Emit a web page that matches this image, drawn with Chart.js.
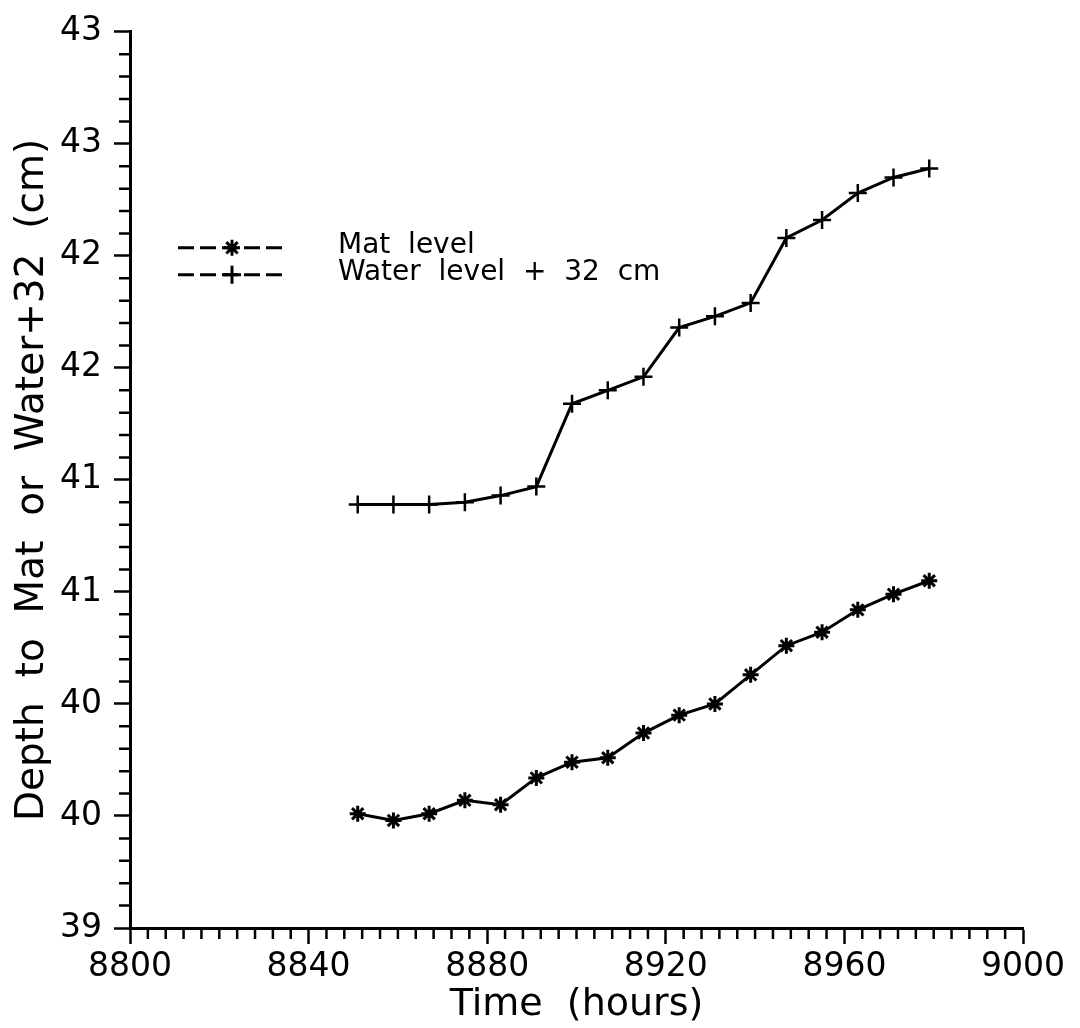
<!DOCTYPE html>
<html>
<head>
<meta charset="utf-8">
<script src="https://cdn.jsdelivr.net/npm/chart.js@4"></script>
<style>
  html, body { margin: 0; padding: 0; background: #fff; }
  #wrap { width: 1080px; height: 1028px; position: relative; }
</style>
</head>
<body>
<div id="wrap"><canvas id="myChart"></canvas></div>
<script>
// readings, every 8 hours
const hours = [8851, 8859, 8867, 8875, 8883, 8891, 8899, 8907, 8915, 8923, 8931, 8939, 8947, 8955, 8963, 8971, 8979]
const matLevel = [39.51, 39.48, 39.51, 39.57, 39.55, 39.67, 39.74, 39.76, 39.87, 39.95, 40.0, 40.13, 40.26, 40.32, 40.42, 40.49, 40.55]
const waterLevel = [40.89, 40.89, 40.89, 40.9, 40.93, 40.97, 41.34, 41.4, 41.46, 41.68, 41.73, 41.79, 42.08, 42.16, 42.28, 42.35, 42.39]
const seriesLabels = ['Mat  level', 'Water  level  +  32  cm']
const xTitle = 'Time  (hours)'
const yTitle = 'Depth  to  Mat  or  Water+32  (cm)'

const ctx = document.getElementById('myChart')

Chart.defaults.font.family = "'DejaVu Sans', sans-serif"
Chart.defaults.color = '#000'

// labels every 0.5 on y (printed rounded), every 40 on x
const isMajorY = (v) => Math.abs(v * 2 - Math.round(v * 2)) < 1e-6
const isMajorX = (v) => Math.abs(v % 40) < 1e-6

// short minor tick marks, the long ones come from chart.js itself
const minorTicks = {
  id: 'minorTicks',
  afterDraw(chart) {
    const { ctx, scales: { x, y } } = chart
    ctx.save()
    ctx.strokeStyle = '#000'
    ctx.lineWidth = 2.5
    ctx.beginPath()
    y.ticks.forEach((t) => {
      if (isMajorY(t.value)) return
      const py = y.getPixelForValue(t.value)
      ctx.moveTo(y.right - 11, py)
      ctx.lineTo(y.right, py)
    })
    x.ticks.forEach((t) => {
      if (isMajorX(t.value)) return
      const px = x.getPixelForValue(t.value)
      ctx.moveTo(px, x.top)
      ctx.lineTo(px, x.top + 11)
    })
    ctx.stroke()
    ctx.restore()
  }
}

// legend sits inside the plot, top left: "--*--  Mat level"
const inlineLegend = {
  id: 'inlineLegend',
  afterDraw(chart) {
    const { ctx, chartArea } = chart
    chart.data.datasets.forEach((ds, i) => {
      const rowY = chartArea.top + 216 + i * 27
      const x0 = chartArea.left + 48
      ctx.save()
      ctx.strokeStyle = '#000'
      ctx.fillStyle = '#000'
      ctx.lineWidth = 3
      ctx.setLineDash([16, 6])
      ctx.beginPath()
      ctx.moveTo(x0, rowY)
      ctx.lineTo(x0 + 110, rowY)
      ctx.stroke()
      ctx.setLineDash([])
      Chart.helpers.drawPoint(ctx, {
        pointStyle: ds.pointStyle,
        radius: ds.pointRadius,
        rotation: 0,
        borderWidth: 2.5
      }, x0 + 54, rowY)
      ctx.font = "28px 'DejaVu Sans'"
      ctx.textBaseline = 'middle'
      ctx.fillText(ds.label, x0 + 160, rowY - 2)
      ctx.restore()
    })
  }
}

const data = {
  datasets: [
    {
      label: seriesLabels[0],
      data: hours.map((h, i) => ({ x: h, y: matLevel[i] })),
      borderColor: '#000',
      backgroundColor: '#000',
      borderWidth: 3,
      pointStyle: 'star',
      pointRadius: 8,
      pointBorderWidth: 3
    },
    {
      label: seriesLabels[1],
      data: hours.map((h, i) => ({ x: h, y: waterLevel[i] })),
      borderColor: '#000',
      backgroundColor: '#000',
      borderWidth: 3,
      pointStyle: 'cross',
      pointRadius: 9,
      pointBorderWidth: 2.5
    }
  ]
}

const options = {
  responsive: true,
  maintainAspectRatio: false,
  animation: false,
  layout: { padding: { top: 25, right: 57, left: 0, bottom: 0 } },
  scales: {
    x: {
      type: 'linear',
      min: 8800,
      max: 9000,
      afterFit: (scale) => { scale.height = 100 },
      border: { color: '#000', width: 3 },
      grid: {
        drawOnChartArea: false,
        tickLength: 16,
        tickWidth: 2.5,
        tickColor: (c) => (isMajorX(c.tick.value) ? '#000' : 'rgba(0,0,0,0)')
      },
      ticks: {
        stepSize: 4,
        autoSkip: false,
        maxRotation: 0,
        padding: 4,
        font: { size: 33 },
        callback: (v) => (isMajorX(v) ? String(v) : '')
      },
      title: {
        display: true,
        text: xTitle,
        font: { size: 38 },
        padding: { top: 0, bottom: 0 }
      }
    },
    y: {
      min: 39,
      max: 43,
      afterFit: (scale) => { scale.width = 130 },
      border: { color: '#000', width: 3 },
      grid: {
        drawOnChartArea: false,
        tickLength: 16,
        tickWidth: 2.5,
        tickColor: (c) => (isMajorY(c.tick.value) ? '#000' : 'rgba(0,0,0,0)')
      },
      ticks: {
        stepSize: 0.1,
        autoSkip: false,
        padding: 12,
        font: { size: 33 },
        callback: (v) => (isMajorY(v) ? String(Math.round(v)) : '')
      },
      title: {
        display: true,
        text: yTitle,
        font: { size: 39 },
        padding: { top: 9, bottom: 0 }
      }
    }
  },
  plugins: {
    legend: { display: false },
    tooltip: { enabled: false }
  }
}

let lineChart = new Chart(ctx, {
  type: 'line',
  data,
  options,
  plugins: [minorTicks, inlineLegend]
})
</script>
</body>
</html>
